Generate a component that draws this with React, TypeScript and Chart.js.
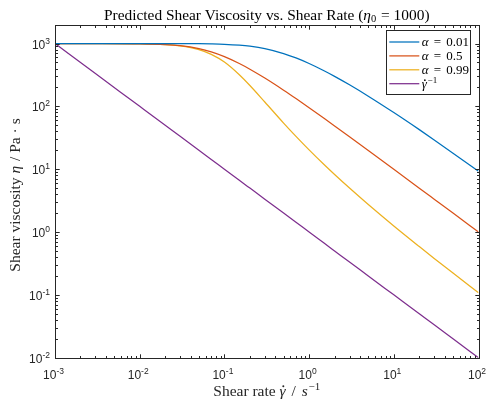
import React, { useEffect, useRef } from "react";
import { Chart, registerables } from "chart.js";

Chart.register(...registerables);

// Shear rate samples (1/s)
const shearRate = [0.001, 0.003, 0.01, 0.02, 0.03, 0.05, 0.07, 0.1, 0.15, 0.2, 0.3, 0.5, 0.7, 1, 1.5, 2, 3, 5, 10, 20, 30, 50, 100];
// Shear viscosity (Pa·s)
const etaAlpha001 = [1000, 1000, 999.7, 998.8, 997.3, 992.7, 985.9, 972.5, 942, 906, 829.5, 692.7, 589.5, 480.9, 368.9, 300.3, 220.3, 145.2, 79.7, 42.6, 29.2, 18.0, 9.28];
const etaAlpha05 = [1000, 999, 990.2, 962.9, 923.3, 828.4, 735.2, 618, 480.5, 390.4, 282.4, 181, 133, 95.1, 64.5, 48.8, 32.8, 19.8, 9.95, 4.99, 3.33, 2.0, 1.0];
const etaAlpha099 = [1000, 999.1, 990, 961, 917, 800, 672, 507, 318.5, 214.7, 117.3, 54.2, 33.3, 20.3, 11.86, 8.23, 5.01, 2.74, 1.25, 0.587, 0.38, 0.222, 0.108];
const etaInverse = [1000, 333.3, 100, 50, 33.33, 20, 14.29, 10, 6.667, 5, 3.333, 2, 1.429, 1, 0.6667, 0.5, 0.3333, 0.2, 0.1, 0.05, 0.03333, 0.02, 0.01];

const seriesLabels = ["α = 0.01", "α = 0.5", "α = 0.99", "γ̇⁻¹"];
const alphaValues = ["0.01", "0.5", "0.99"];
const seriesColors = ["#0072BD", "#D95319", "#EDB120", "#7E2F8E"];

const xTickValues = [1e-3, 1e-2, 1e-1, 1, 10, 100];
const xTickExponents = ["-3", "-2", "-1", "0", "1", "2"];
const yTickValues = [1e-2, 1e-1, 1, 10, 100, 1000];
const yTickExponents = ["-2", "-1", "0", "1", "2", "3"];

const titleText = "Predicted Shear Viscosity vs. Shear Rate (";
const xTitleText = "Shear rate ";
const yTitleText = "Shear viscosity ";

const SERIF = '"Liberation Serif", "Times New Roman", serif';
const SANS = '"Liberation Sans", Arial, Helvetica, sans-serif';
const AXIS = "#262626";

type Seg = { t: string; px: number; it?: boolean; fam?: string; dy?: number; dot?: boolean; gap?: number };

const font = (px: number, it = false, fam = SERIF) => `${it ? "italic " : ""}${px}px ${fam}`;

function richWidth(ctx: CanvasRenderingContext2D, segs: Seg[]) {
  let w = 0;
  for (const s of segs) {
    ctx.font = font(s.px, s.it, s.fam || SERIF);
    w += ctx.measureText(s.t).width + (s.gap || 0);
  }
  return w;
}

function drawRich(ctx: CanvasRenderingContext2D, segs: Seg[], x: number, y: number, align: "left" | "center" | "right") {
  const w = richWidth(ctx, segs);
  let cx = align === "center" ? x - w / 2 : align === "right" ? x - w : x;
  ctx.textAlign = "left";
  ctx.textBaseline = "alphabetic";
  for (const s of segs) {
    ctx.font = font(s.px, s.it, s.fam || SERIF);
    const tw = ctx.measureText(s.t).width;
    ctx.fillText(s.t, cx, y + (s.dy || 0));
    if (s.dot) {
      ctx.beginPath();
      ctx.arc(cx + tw * 0.62, y + (s.dy || 0) - s.px * 0.6, Math.max(0.7, s.px * 0.065), 0, Math.PI * 2);
      ctx.fill();
    }
    cx += tw + (s.gap || 0);
  }
}

const al = (v: number) => Math.round(v) + 0.5;

const matlabAxes = {
  id: "matlabAxes",
  afterDatasetsDraw(chart: any) {
    const ctx: CanvasRenderingContext2D = chart.ctx;
    const { left, right, top, bottom } = chart.chartArea;
    const xs = chart.scales.x;
    const ys = chart.scales.y;
    const L = al(left), R = al(right), T = al(top), B = al(bottom);
    ctx.save();
    ctx.strokeStyle = AXIS;
    ctx.fillStyle = AXIS;
    ctx.lineWidth = 1;

    // ticks
    const majorLen = 4.2, minorLen = 2.5;
    ctx.beginPath();
    for (let k = -3; k <= 2; k++) {
      for (let m = 1; m <= 9; m++) {
        const v = m * Math.pow(10, k);
        if (v > 100 * 1.0001) continue;
        const len = m === 1 ? majorLen : minorLen;
        const px = al(xs.getPixelForValue(v));
        ctx.moveTo(px, B); ctx.lineTo(px, B - len);
        ctx.moveTo(px, T); ctx.lineTo(px, T + len);
      }
    }
    for (let k = -2; k <= 3; k++) {
      for (let m = 1; m <= 9; m++) {
        const v = m * Math.pow(10, k);
        if (v > 2000 * 1.0001) continue;
        const len = m === 1 ? majorLen : minorLen;
        const py = al(ys.getPixelForValue(v));
        ctx.moveTo(L, py); ctx.lineTo(L + len, py);
        ctx.moveTo(R, py); ctx.lineTo(R - len, py);
      }
    }
    ctx.stroke();
    ctx.strokeRect(L, T, R - L, B - T);

    // tick labels
    xTickValues.forEach((v, i) => {
      const px = xs.getPixelForValue(v);
      drawRich(ctx, [
        { t: "10", px: 12, fam: SANS },
        { t: xTickExponents[i], px: 8.5, fam: SANS, dy: -5 },
      ], px - 1.5, 378.5, "center");
    });
    yTickValues.forEach((v, i) => {
      const py = ys.getPixelForValue(v);
      drawRich(ctx, [
        { t: "10", px: 12, fam: SANS },
        { t: yTickExponents[i], px: 8.5, fam: SANS, dy: -5 },
      ], 50, py + 5, "right");
    });

    // title
    ctx.fillStyle = "#000";
    drawRich(ctx, [
      { t: titleText, px: 15.4 },
      { t: "η", px: 15.4, it: true },
      { t: "0", px: 10.5, dy: 2.5, gap: 1 },
      { t: " = 1000)", px: 15.4 },
    ], (left + right) / 2, 19.5, "center");

    // x title
    ctx.fillStyle = AXIS;
    drawRich(ctx, [
      { t: xTitleText, px: 15.5 },
      { t: "γ", px: 15.5, it: true, dot: true, gap: 2 },
      { t: " / ", px: 15.5, gap: 2 },
      { t: "s", px: 15.5, it: true, gap: 0.8 },
      { t: "−1", px: 11, dy: -6 },
    ], (left + right) / 2, 395.5, "center");

    // y title
    ctx.save();
    ctx.translate(19.5, 195);
    ctx.rotate(-Math.PI / 2);
    drawRich(ctx, [
      { t: yTitleText, px: 15.5 },
      { t: "η", px: 15.5, it: true, gap: 1 },
      { t: " / Pa · s", px: 15.5 },
    ], 0, 0, "center");
    ctx.restore();

    // legend
    const bx = 386.5, by = 30.5, bw = 84, bh = 64;
    ctx.fillStyle = "#fff";
    ctx.fillRect(bx, by, bw, bh);
    ctx.strokeStyle = AXIS;
    ctx.strokeRect(bx, by, bw, bh);
    chart.data.datasets.forEach((ds: any, i: number) => {
      const y = 42 + i * 13.9;
      ctx.strokeStyle = ds.borderColor;
      ctx.lineWidth = 1.25;
      ctx.beginPath();
      ctx.moveTo(389.3, y);
      ctx.lineTo(419.3, y);
      ctx.stroke();
      ctx.fillStyle = "#000";
      const segs: Seg[] = i < alphaValues.length
        ? [{ t: "α", px: 13, it: true, gap: 2 }, { t: " = ", px: 13, gap: 2 }, { t: alphaValues[i], px: 13 }]
        : [{ t: "γ", px: 13, it: true, dot: true, gap: 0.8 }, { t: "−1", px: 9, dy: -5.5 }];
      drawRich(ctx, segs, 421.7, y + 4.3, "left");
    });
    ctx.restore();
  },
};

export default function App() {
  const ref = useRef<HTMLCanvasElement>(null);
  useEffect(() => {
    const canvas = ref.current!;
    const series = [etaAlpha001, etaAlpha05, etaAlpha099, etaInverse];
    const chart = new Chart(canvas, {
      type: "line",
      data: {
        datasets: series.map((vals, i) => ({
          label: seriesLabels[i],
          data: shearRate.map((x, j) => ({ x, y: vals[j] })),
          borderColor: seriesColors[i],
          backgroundColor: seriesColors[i],
          borderWidth: 1.25,
          pointRadius: 0,
          cubicInterpolationMode: "monotone" as const,
          fill: false,
        })),
      },
      options: {
        animation: false,
        responsive: false,
        events: [],
        layout: { padding: { left: 55, top: 24.6, right: 11.5, bottom: 41.3 } },
        scales: {
          x: { type: "logarithmic", min: 1e-3, max: 100, display: false },
          y: { type: "logarithmic", min: 1e-2, max: 2000, display: false },
        },
        plugins: {
          legend: { display: false },
          title: { display: false },
          tooltip: { enabled: false },
        },
      },
      plugins: [matlabAxes],
    });
    return () => chart.destroy();
  }, []);
  return (
    <canvas
      ref={ref}
      width={490}
      height={399}
      style={{ position: "fixed", left: 0, top: 0, width: "490px", height: "399px", background: "#fff" }}
    />
  );
}
